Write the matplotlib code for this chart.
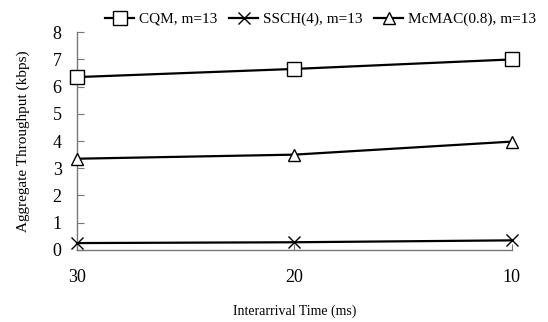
import matplotlib.pyplot as plt

plt.rcParams['font.family'] = ['Liberation Serif', 'DejaVu Serif']

interarrival = ['30', '20', '10']
cqm = [6.35, 6.65, 7.0]
ssch = [0.25, 0.28, 0.35]
mcmac = [3.35, 3.5, 3.98]

fig = plt.figure(figsize=(5.48, 3.22), dpi=100)
ax = fig.add_axes([0.1405, 0.224, 0.7935, 0.676])

x = range(len(interarrival))
ax.plot(x, cqm, color='black', lw=1.6, marker='s', ms=10, mfc='white', mec='black', mew=1,
        label='CQM, m=13', clip_on=False, zorder=3)
ax.plot(x, ssch, color='black', lw=1.6, marker='x', ms=9, mew=1,
        label='SSCH(4), m=13', clip_on=False, zorder=3)
ax.plot(x, mcmac, color='black', lw=1.6, marker='^', ms=9, mfc='white', mec='black', mew=1,
        label='McMAC(0.8), m=13', clip_on=False, zorder=3)

ax.set_xlim(0, 2)
ax.set_ylim(0, 8)
ax.set_xticks(list(x))
ax.set_xticklabels(interarrival)
ax.set_yticks(range(0, 9))

for s in ['top', 'right']:
    ax.spines[s].set_visible(False)
for s in ['left', 'bottom']:
    ax.spines[s].set_color('#777777')
    ax.spines[s].set_linewidth(1)

ax.tick_params(axis='y', direction='in', length=5, color='#777777', labelsize=13, pad=11)
ax.tick_params(axis='x', direction='in', length=4, color='#777777', labelsize=13, pad=14)

ax.set_xlabel('Interarrival Time (ms)', fontsize=10, labelpad=13)
ax.set_ylabel('Aggregate Throughput (kbps)', fontsize=11, labelpad=16)

ax.legend(loc='lower center', bbox_to_anchor=(0.56, 1.0), ncol=3, frameon=False,
          fontsize=11, handlelength=1.9, handletextpad=0.3, columnspacing=0.8,
          borderaxespad=0)

fig.savefig('out.png', dpi=100)
